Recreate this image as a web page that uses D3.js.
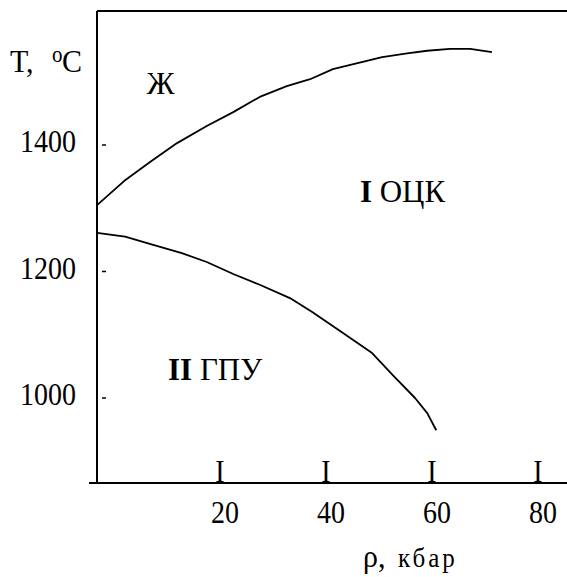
<!DOCTYPE html>
<html>
<head>
<meta charset="utf-8">
<script src="https://cdn.jsdelivr.net/npm/d3@7"></script>
<style>
  html, body { margin: 0; padding: 0; background: #fff; }
  svg { display: block; }
  text { font-family: "Liberation Serif", "DejaVu Serif", serif; fill: #000; }
</style>
</head>
<body>
<div id="chart"></div>
<script>
// Phase boundaries, pressure in kbar, temperature in °C
const liquidusP = [-3.2, 1.9, 6.8, 11.9, 17.5, 22.5, 27.5, 32.6, 37.0, 41.3, 50.6, 55.3, 59.1, 63.4, 67.2, 71.3];
const liquidusT = [1305, 1343, 1373, 1403, 1430, 1452, 1476, 1493, 1504, 1520, 1539, 1545, 1549, 1552, 1552, 1547];

const hcpBccP = [-3.2, 2.1, 7.4, 12.8, 17.5, 22.5, 27.5, 33.2, 37.4, 43.0, 48.7, 52.6, 56.8, 59.1, 60.8];
const hcpBccT = [1261, 1255, 1242, 1229, 1215, 1196, 1179, 1158, 1136, 1104, 1071, 1036, 1000, 976, 949];

const xTicks = [20, 40, 60, 80];
const yTicks = [1400, 1200, 1000];

// region labels: [bold part, normal part, p, T]
const regionLabels = [
  ["", "Ж", 6.2, 1480],
  ["I", " ОЦК", 46.4, 1310],
  ["II", " ГПУ", 10.2, 1028]
];

const width = 567, height = 577;
const axisX = 97, topY = 11, bottomY = 483;

const x = d3.scaleLinear().domain([0, 80]).range([114, 538]);
const y = d3.scaleLinear().domain([1000, 1400]).range([398, 145]);

const svg = d3.select("#chart").append("svg")
  .attr("width", width)
  .attr("height", height);

// frame: top border, left axis, bottom axis
const frame = svg.append("g")
  .attr("stroke", "#000")
  .attr("stroke-width", 2)
  .attr("fill", "none");
frame.append("line").attr("x1", axisX).attr("x2", width).attr("y1", topY).attr("y2", topY);
frame.append("line").attr("x1", axisX).attr("x2", axisX).attr("y1", topY).attr("y2", bottomY);
frame.append("line").attr("x1", 89).attr("x2", width).attr("y1", bottomY).attr("y2", bottomY);

// y ticks (small dashes) and labels
svg.append("g").selectAll("line")
  .data(yTicks)
  .join("line")
  .attr("x1", axisX + 5).attr("x2", axisX + 9)
  .attr("y1", d => y(d)).attr("y2", d => y(d))
  .attr("stroke", "#000").attr("stroke-width", 1.5);

svg.append("g").selectAll("text")
  .data(yTicks)
  .join("text")
  .attr("text-anchor", "end")
  .attr("font-size", 28)
  .attr("transform", d => `translate(76,${y(d) + 7}) scale(1,1.12)`)
  .text(d => d);

// x ticks drawn as "I" glyphs sitting on the axis, labels below
svg.append("g").selectAll("text")
  .data(xTicks)
  .join("text")
  .attr("text-anchor", "middle")
  .attr("font-size", 28)
  .attr("transform", d => `translate(${x(d)},${bottomY - 1}) scale(1,1.12)`)
  .text("I");

svg.append("g").selectAll("text")
  .data(xTicks)
  .join("text")
  .attr("text-anchor", "middle")
  .attr("font-size", 28)
  .attr("transform", d => `translate(${x(d) + 5},523) scale(1,1.12)`)
  .text(d => d);

// curves
const line = d3.line()
  .x(d => x(d[0]))
  .y(d => y(d[1]));

const curves = [d3.zip(liquidusP, liquidusT), d3.zip(hcpBccP, hcpBccT)];
svg.append("g").selectAll("path")
  .data(curves)
  .join("path")
  .attr("d", line)
  .attr("fill", "none")
  .attr("stroke", "#000")
  .attr("stroke-width", 1.8)
  .attr("stroke-linejoin", "round");

// region labels
const regions = svg.append("g").selectAll("text")
  .data(regionLabels)
  .join("text")
  .attr("font-size", 31)
  .attr("transform", d => `translate(${x(d[2])},${y(d[3])}) scale(1,1.03)`);
regions.append("tspan").attr("font-weight", "bold").text(d => d[0]);
regions.append("tspan").text(d => d[1]);

// y axis title: T, °C
const yTitle = svg.append("text")
  .attr("font-size", 30)
  .attr("transform", "translate(10,72) scale(1,1.06)");
yTitle.append("tspan").text("T,");
yTitle.append("tspan").attr("x", 42).attr("dy", -9).attr("font-size", 21).text("o");
yTitle.append("tspan").attr("x", 52).attr("dy", 9).text("C");

// x axis title: ρ, кбар
const xTitle = svg.append("text")
  .attr("transform", "translate(363,567) scale(1,1.05)");
xTitle.append("tspan").attr("font-size", 30).text("ρ,");
xTitle.append("tspan").attr("x", 35).attr("font-size", 25).attr("letter-spacing", 3).text("кбар");
</script>
</body>
</html>
